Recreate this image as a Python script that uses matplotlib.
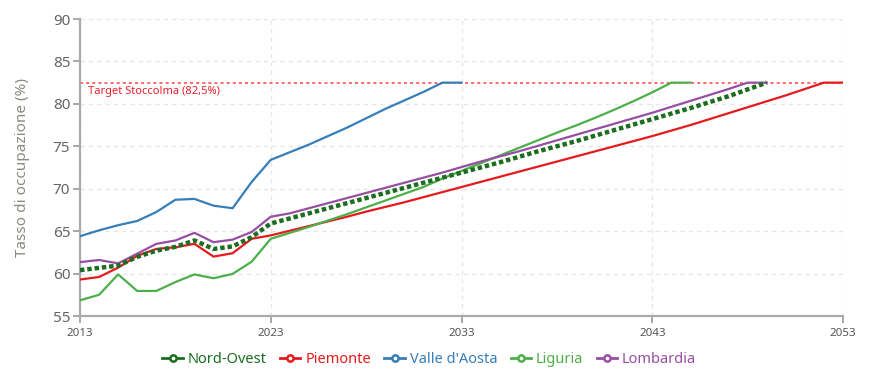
import matplotlib
matplotlib.use("Agg")
import matplotlib.pyplot as plt
from matplotlib.lines import Line2D

plt.rcParams['font.family'] = ['Noto Sans', 'DejaVu Sans']

# -----------------------------------------------------------
# Dati (tasso di occupazione %, dal 2013 in poi)
# -----------------------------------------------------------
anno_inizio = 2013
target = 82.5

nord_ovest = [60.4, 60.67, 60.94, 61.97, 62.7, 63.15, 63.9, 62.9, 63.2, 64.3, 65.9,
              66.5, 67.1, 67.7, 68.3, 68.9, 69.5, 70.1, 70.7, 71.3, 71.9,
              72.5, 73.1, 73.75, 74.4, 75.0, 75.6, 76.25, 76.9, 77.55, 78.2,
              78.85, 79.5, 80.2, 80.9, 81.7, 82.5]
piemonte = [59.3, 59.6, 60.7, 62.1, 62.9, 63.1, 63.5, 62.0, 62.4, 64.1, 64.5,
            65.05, 65.6, 66.15, 66.7, 67.3, 67.85, 68.4, 69.0, 69.6, 70.2,
            70.8, 71.4, 72.0, 72.6, 73.2, 73.8, 74.4, 75.0, 75.6, 76.2,
            76.85, 77.5, 78.2, 78.9, 79.6, 80.3, 81.0, 81.75, 82.5, 82.5]
valle_aosta = [64.4, 65.1, 65.7, 66.2, 67.25, 68.7, 68.8, 68.0, 67.7, 70.8, 73.4,
               74.3, 75.2, 76.2, 77.2, 78.3, 79.4, 80.4, 81.4, 82.5, 82.5]
liguria = [56.85, 57.5, 59.9, 57.95, 57.95, 59.0, 59.9, 59.45, 59.96, 61.4, 64.1,
           64.8, 65.5, 66.25, 67.0, 67.8, 68.6, 69.4, 70.2, 71.2, 72.1,
           73.0, 73.9, 74.8, 75.7, 76.6, 77.45, 78.35, 79.3, 80.3, 81.35,
           82.5, 82.5]
lombardia = [61.35, 61.6, 61.2, 62.35, 63.5, 63.9, 64.8, 63.7, 64.0, 64.9, 66.7,
             67.1, 67.7, 68.3, 68.9, 69.5, 70.1, 70.7, 71.3, 71.9, 72.55,
             73.2, 73.8, 74.4, 75.05, 75.7, 76.35, 77.0, 77.65, 78.3, 78.95,
             79.65, 80.35, 81.05, 81.75, 82.5, 82.5]

serie = [
    ("Nord-Ovest", nord_ovest, "#1b6e20"),
    ("Piemonte", piemonte, "#e41a1c"),
    ("Valle d'Aosta", valle_aosta, "#377eb8"),
    ("Liguria", liguria, "#4daf4a"),
    ("Lombardia", lombardia, "#984ea3"),
]

x_ticks = [2013, 2023, 2033, 2043, 2053]
y_ticks = [55, 60, 65, 70, 75, 80, 85, 90]

# -----------------------------------------------------------
# Grafico
# -----------------------------------------------------------
fig = plt.figure(figsize=(8.76, 3.76), dpi=100)
ax = fig.add_axes([80 / 876, 1 - 316 / 376, (843 - 80) / 876, (316 - 19) / 376])

grid_kw = dict(color="#e6e6e6", linewidth=1, linestyle=(0, (3, 3)))
ax.grid(True, **grid_kw)
ax.set_axisbelow(True)

# target Stoccolma
ax.axhline(target, color="#ff4444", linewidth=1.1, linestyle=(0, (2, 2)), zorder=2)
ax.text(2013.4, target - 0.45, "Target Stoccolma (82,5%)", color="#e8202a",
        fontsize=8, va="top", ha="left")

for nome, valori, colore in serie[1:]:
    anni = list(range(anno_inizio, anno_inizio + len(valori)))
    ax.plot(anni, valori, color=colore, linewidth=1.6, zorder=3)

# Nord-Ovest tratteggiato sopra le altre
anni_no = list(range(anno_inizio, anno_inizio + len(nord_ovest)))
ax.plot(anni_no, nord_ovest, color=serie[0][2], linewidth=3.2,
        linestyle=(0, (1, 0.65)), dash_capstyle="butt", zorder=4)

ax.set_xlim(2013, 2053)
ax.set_ylim(55, 90)
ax.set_xticks(x_ticks)
ax.set_yticks(y_ticks)
ax.tick_params(axis="x", labelsize=8.3, colors="#999999", labelcolor="#555555",
               length=5, width=1.2)
ax.tick_params(axis="y", labelsize=11, colors="#999999", labelcolor="#666666",
               length=5, width=1.2, pad=2)
for lado in ["top", "right"]:
    ax.spines[lado].set_visible(False)
for lado in ["left", "bottom"]:
    ax.spines[lado].set_color("#aaaaaa")
    ax.spines[lado].set_linewidth(1.6)

ax.set_ylabel("Tasso di occupazione (%)", fontsize=11, color="#8a8a80", labelpad=16)

# legenda
leg_handles = [Line2D([0], [0], color=c, linewidth=2, marker="o", markersize=4.5,
                      markerfacecolor="white", markeredgewidth=1.8)
               for _, _, c in serie]
leg = fig.legend(leg_handles, [s[0] for s in serie], loc="lower center",
                 bbox_to_anchor=(0.49, -0.01), ncol=5, frameon=False,
                 fontsize=10.5, handlelength=1.4, handletextpad=0.35,
                 columnspacing=0.9)
for testo, (_, _, c) in zip(leg.get_texts(), serie):
    testo.set_color(c)

fig.savefig("out.png", dpi=100)
